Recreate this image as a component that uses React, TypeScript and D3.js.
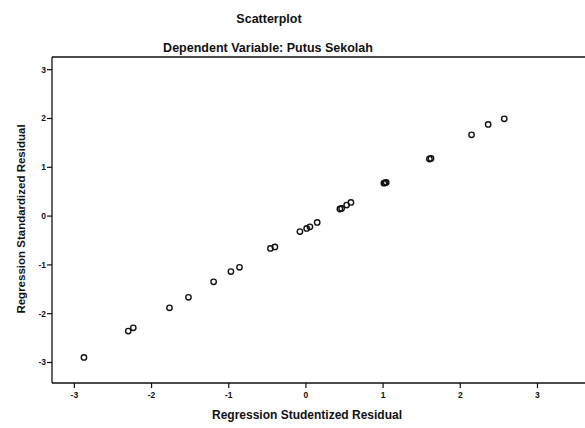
import React from "react";
import * as d3 from "d3";

const studentized = [
  -2.876, -2.302, -2.237, -1.768, -1.522, -1.196, -0.972, -0.861, -0.46, -0.402,
  -0.078, 0.009, 0.052, 0.146, 0.44, 0.462, 0.527, 0.583, 1.01, 1.023, 1.04,
  1.6, 1.62, 2.146, 2.361, 2.569,
];
const standardized = [
  -2.895, -2.357, -2.289, -1.879, -1.664, -1.346, -1.137, -1.049, -0.662, -0.631,
  -0.318, -0.252, -0.219, -0.129, 0.145, 0.158, 0.225, 0.281, 0.675, 0.682, 0.69,
  1.17, 1.18, 1.666, 1.879, 1.994,
];
const xTicks = [-3, -2, -1, 0, 1, 2, 3];
const yTicks = [-3, -2, -1, 0, 1, 2, 3];

const title = "Scatterplot";
const subtitle = "Dependent Variable: Putus Sekolah";
const xTitle = "Regression Studentized Residual";
const yTitle = "Regression Standardized Residual";

export default function App() {
  const W = 585;
  const H = 428;
  const left = 52, right = 600, top = 57, bottom = 383;
  const x = d3.scaleLinear().domain([-3.29, 3.81]).range([left, right]);
  const y = d3.scaleLinear().domain([-3.42, 3.26]).range([bottom, top]);
  const font = "'Liberation Sans', Arial, sans-serif";
  const pts = studentized.map((v, i) => ({ x: v, y: standardized[i] }));
  return (
    <svg
      width={W}
      height={H}
      style={{ position: "absolute", left: 0, top: 0, background: "#fff" }}
      fontFamily={font}
    >
      <rect x={0} y={0} width={W} height={H} fill="#fff" />
      <text x={269} y={23} textAnchor="middle" fontSize={12.5} fontWeight="bold" fill="#111">
        {title}
      </text>
      <text x={268} y={52} textAnchor="middle" fontSize={12.5} fontWeight="bold" fill="#111">
        {subtitle}
      </text>
      <line x1={left} y1={top} x2={W + 10} y2={top} stroke="#111" strokeWidth={1.3} />
      <line x1={left} y1={bottom} x2={W + 10} y2={bottom} stroke="#111" strokeWidth={1.3} />
      <line x1={left} y1={top} x2={left} y2={bottom} stroke="#111" strokeWidth={1.3} />
      {yTicks.map((t) => (
        <g key={"y" + t}>
          <line x1={left - 5} x2={left} y1={y(t)} y2={y(t)} stroke="#111" strokeWidth={1.2} />
          <text
            x={left - 6}
            y={y(t)}
            dy="0.35em"
            textAnchor="end"
            fontSize={8.5}
            fontWeight="bold"
            fill="#111"
          >
            {t}
          </text>
        </g>
      ))}
      {xTicks.map((t) => (
        <g key={"x" + t}>
          <line x1={x(t)} x2={x(t)} y1={bottom} y2={bottom + 5} stroke="#111" strokeWidth={1.2} />
          <text
            x={x(t)}
            y={398}
            textAnchor="middle"
            fontSize={8.5}
            fontWeight="bold"
            fill="#111"
          >
            {t}
          </text>
        </g>
      ))}
      <text x={307} y={419} textAnchor="middle" fontSize={12} fontWeight="bold" fill="#111">
        {xTitle}
      </text>
      <text
        transform={`translate(25, 219) rotate(-90)`}
        textAnchor="middle"
        fontSize={11.5}
        fontWeight="bold"
        fill="#111"
      >
        {yTitle}
      </text>
      {pts.map((p, i) => (
        <circle
          key={i}
          cx={x(p.x)}
          cy={y(p.y)}
          r={2.7}
          fill="none"
          stroke="#111"
          strokeWidth={1.4}
        />
      ))}
    </svg>
  );
}
